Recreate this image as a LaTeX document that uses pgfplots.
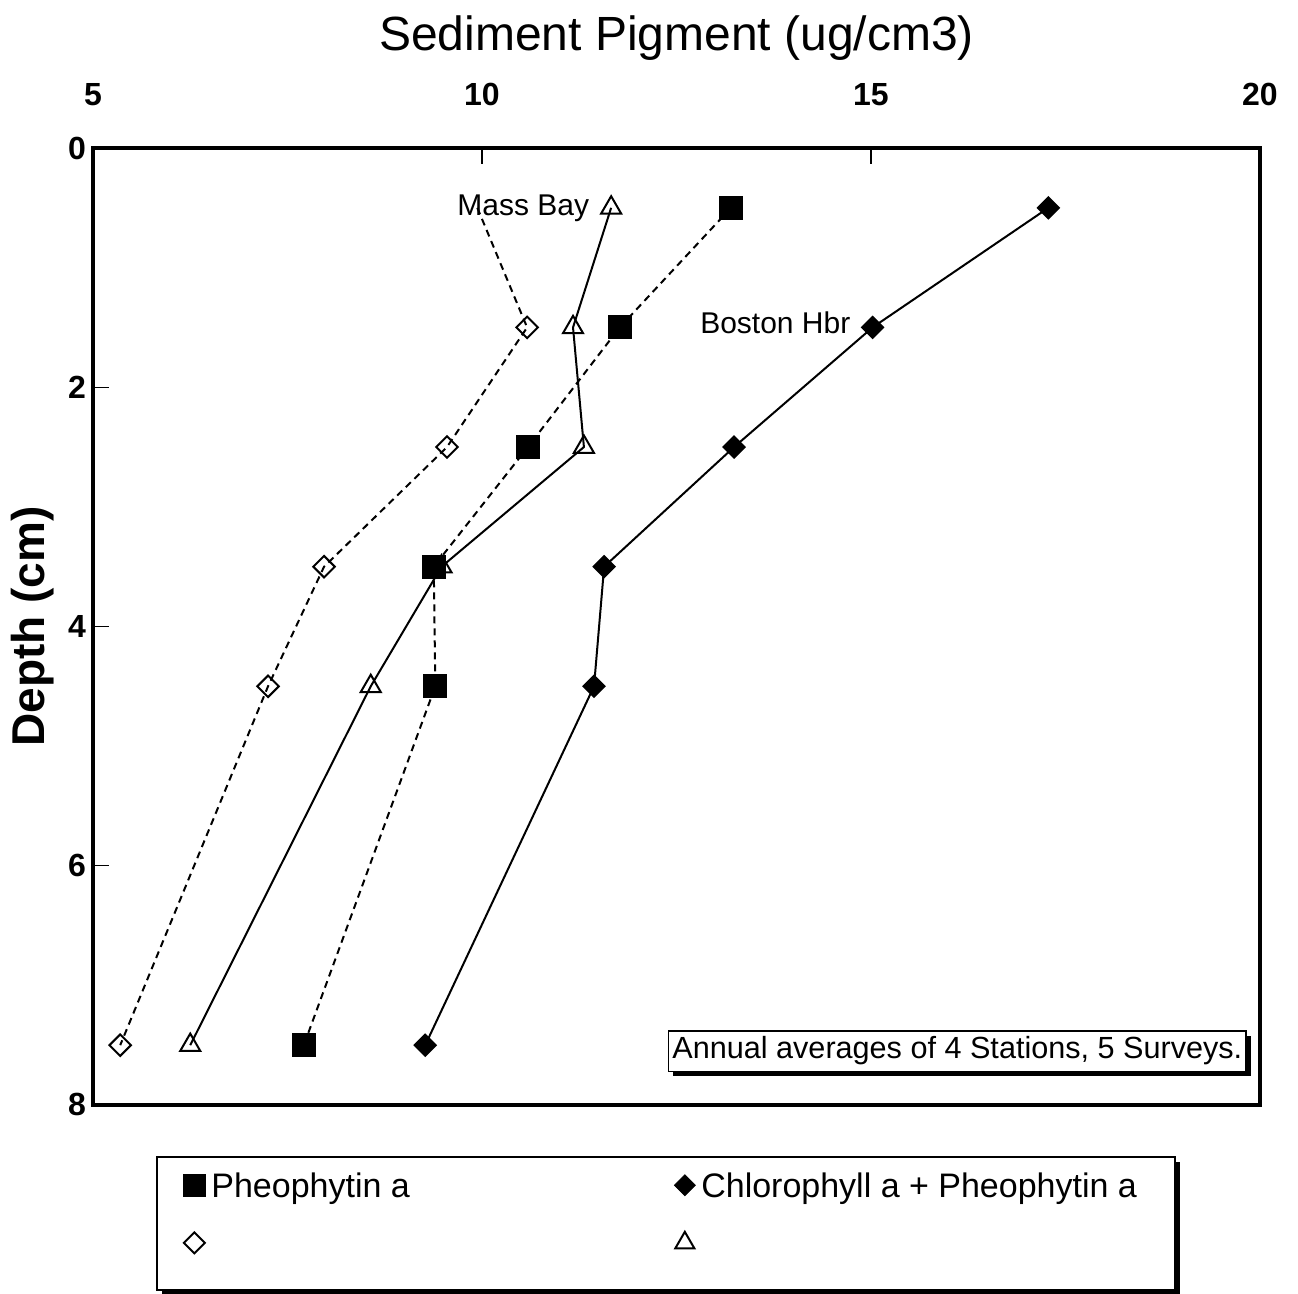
\documentclass[border=0pt]{standalone}
\usepackage{pgfplots}
\pgfplotsset{compat=1.18}
\usepackage{fontspec}
\setmainfont{Liberation Sans}
\usetikzlibrary{shadows}
\begin{document}
\begin{tikzpicture}
\begin{axis}[
  scale only axis,
  width=583.5pt, height=478.5pt,
  xmin=5, xmax=20, ymin=0, ymax=8,
  y dir=reverse,
  xtick={5,10,15,20}, ytick={0,2,4,6,8},
  xtick pos=upper, xticklabel pos=upper,
  ytick pos=left,
  tick align=inside,
  major tick length=8pt,
  every tick/.style={black, line width=0.6pt},
  axis line style={line width=2pt},
  tick label style={font=\bfseries\fontsize{16}{19}\selectfont},
  /pgf/number format/assume math mode=true,
  xticklabel shift=17.5pt,
  title={Sediment Pigment (ug/cm3)},
  title style={font=\fontsize{24}{28}\selectfont, at={(axis description cs:0.5,1)}, anchor=center, yshift=49pt},
  ylabel={Depth (cm)},
  every axis y label/.style={at={(axis description cs:-0.0514,0.5)}, rotate=90, anchor=center, font=\bfseries\fontsize{23}{27}\selectfont},
  clip=false,
  legend columns=2,
  legend cell align=left,
  legend image code/.code={\draw[#1] plot coordinates {(0pt,0pt)};},
  legend style={draw=none, fill=none, at={(axis description cs:0.0771,-0.0711)}, anchor=north west,
     inner sep=0pt, row sep=17pt, column sep=0pt,
     font=\fontsize{17}{20}\selectfont,
     nodes={inner sep=0pt, text height=11.8pt, text depth=0pt},
     /tikz/every odd column/.style={column sep=3pt}},
]
% legend frame with shadow
\fill[black] ([xshift=2.5pt,yshift=-2.5pt]axis description cs:0.0548,-0.0543) rectangle ([xshift=2.5pt,yshift=-2.5pt]axis description cs:0.9272,-0.1933);
\draw[fill=white, line width=0.8pt] (axis description cs:0.0548,-0.0543) rectangle (axis description cs:0.9272,-0.1933);

% Mass Bay pheophytin (open diamonds, dashed)
\addplot[forget plot, black, line width=1pt, dash pattern=on 3.5pt off 2.5pt, mark=square, mark size=3.8pt, mark options={rotate=45, solid}, mark indices={2,3,4,5,6}]
  coordinates {(9.94,0.5)(10.58,1.5)(9.55,2.5)(7.97,3.5)(7.25,4.5)(5.35,7.5)};
% Mass Bay chl + pheo (open triangles, solid)
\addplot[forget plot, black, line width=1pt, solid, mark=triangle, mark size=5.8pt]
  coordinates {(11.66,0.5)(11.17,1.5)(11.31,2.5)(9.48,3.5)(8.57,4.5)(6.25,7.5)};
% Boston Hbr pheophytin (filled squares, dashed)
\addplot[forget plot, black, line width=1pt, dash pattern=on 3.5pt off 2.5pt, mark=square*, mark size=5.5pt, mark options={solid}]
  coordinates {(13.20,0.5)(11.77,1.5)(10.59,2.5)(9.38,3.5)(9.40,4.5)(7.71,7.5)};
% Boston Hbr chl + pheo (filled diamonds, solid)
\addplot[forget plot, black, line width=1pt, solid, mark=square*, mark size=3.7pt, mark options={rotate=45}]
  coordinates {(17.28,0.5)(15.02,1.5)(13.24,2.5)(11.57,3.5)(11.44,4.5)(9.27,7.5)};

\addlegendimage{only marks, black, mark=square*, mark size=5.5pt}
\addlegendentry{\makebox[231.5pt][l]{Pheophytin a}}
\addlegendimage{only marks, black, mark=square*, mark size=3.7pt, mark options={rotate=45}}
\addlegendentry{Chlorophyll a + Pheophytin a}
\addlegendimage{only marks, black, line width=1pt, mark=square, mark size=3.7pt, mark options={rotate=45}}
\addlegendentry{\makebox[231.5pt][l]{}}
\addlegendimage{only marks, black, line width=1pt, mark=triangle, mark size=5.5pt}
\addlegendentry{}

\node[font=\fontsize{15}{18}\selectfont, anchor=mid, inner sep=0pt] at (axis cs:10.53,0.52) {Mass Bay};
\node[font=\fontsize{15}{18}\selectfont, anchor=mid, inner sep=0pt] at (axis cs:13.77,1.505) {Boston Hbr};
\node[draw, line width=0.8pt, fill=white, drop shadow={shadow xshift=2.5pt, shadow yshift=-2.5pt, opacity=1, fill=black},
      font=\fontsize{15.3}{18}\selectfont, inner xsep=2pt, inner ysep=3pt, text height=11pt, text depth=3.2pt]
  at (axis cs:16.11,7.55) {Annual averages of 4 Stations, 5 Surveys.};
\end{axis}
\pgfresetboundingbox
\path ([xshift=-46.5pt,yshift=-94.5pt]current axis.south west) rectangle ([xshift=19pt,yshift=74pt]current axis.north east);
\end{tikzpicture}
\end{document}
